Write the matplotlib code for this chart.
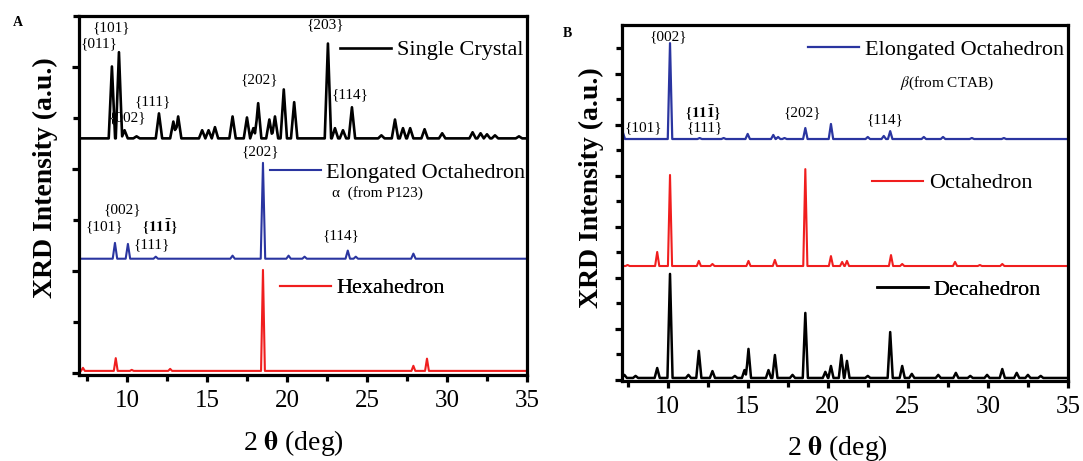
import numpy as np
import matplotlib.pyplot as plt
from matplotlib.ticker import MultipleLocator

plt.rcParams["font.family"] = ["Liberation Serif", "DejaVu Serif"]
plt.rcParams["mathtext.fontset"] = "stix"

# Panel A: peak positions (2 theta, deg) and peak heights above each trace's
# baseline, in units of the y tick spacing.
single_pos = [9.06, 9.5, 9.85, 10.6, 12.0, 12.9, 13.2, 14.7, 15.1, 15.5, 16.6, 17.5,
              17.9, 18.2, 18.9, 19.25, 19.8, 20.45, 22.56, 23.0, 23.5, 24.06, 25.9,
              26.75, 27.25, 27.7, 28.6, 29.7, 31.6, 32.1, 32.5, 33.0, 34.5]
single_h = [1.41, 1.69, 0.16, 0.04, 0.49, 0.33, 0.43, 0.16, 0.16, 0.22, 0.43, 0.41,
            0.2, 0.69, 0.37, 0.43, 0.96, 0.71, 1.86, 0.2, 0.16, 0.61, 0.06,
            0.37, 0.2, 0.2, 0.18, 0.1, 0.12, 0.1, 0.08, 0.06, 0.04]
single_base = 4.6

alpha_pos = [9.25, 10.06, 11.8, 16.6, 18.5, 20.1, 21.1, 23.8, 24.3, 27.9]
alpha_h = [0.31, 0.29, 0.04, 0.06, 1.88, 0.06, 0.04, 0.16, 0.04, 0.1]
alpha_base = 2.24

hexa_pos = [7.25, 9.3, 10.3, 12.7, 18.5, 27.9, 28.75]
hexa_h = [0.06, 0.25, 0.02, 0.04, 1.98, 0.1, 0.24]
hexa_base = 0.04

# Panel B
beta_pos = [7.2, 10.15, 12.0, 13.5, 15.0, 16.6, 16.9, 17.3, 18.6, 20.2, 22.5, 23.5,
            23.9, 26.0, 27.2, 29.0, 31.0]
beta_h = [0.27, 3.76, 0.04, 0.04, 0.2, 0.16, 0.08, 0.04, 0.43, 0.59, 0.08, 0.12,
          0.31, 0.08, 0.08, 0.04, 0.04]
beta_base = 9.45

octa_pos = [7.5, 9.35, 10.15, 11.95, 12.8, 15.05, 16.7, 18.6, 20.2, 20.9, 21.2, 23.95,
            24.65, 27.95, 29.5, 30.9]
octa_h = [0.04, 0.55, 3.57, 0.2, 0.08, 0.2, 0.24, 3.8, 0.39, 0.16, 0.2, 0.43,
          0.08, 0.16, 0.04, 0.08]
octa_base = 4.47

deca_pos = [7.3, 8.0, 9.35, 10.15, 11.3, 11.95, 12.8, 14.2, 14.8, 15.05, 16.3, 16.7,
            17.8, 18.6, 19.85, 20.2, 20.85, 21.2, 22.5, 23.9, 24.65, 25.25, 26.9, 28.0,
            28.9, 29.95, 30.9, 31.8, 32.5, 33.3]
deca_h = [0.12, 0.08, 0.39, 4.08, 0.12, 1.06, 0.27, 0.08, 0.31, 1.14, 0.31, 0.9,
          0.12, 2.55, 0.24, 0.47, 0.9, 0.67, 0.08, 1.8, 0.47, 0.16, 0.12, 0.2,
          0.08, 0.12, 0.35, 0.2, 0.12, 0.08]
deca_base = 0.08

BLACK = "#000000"
BLUE = "#2a35a0"
RED = "#f01e1e"


def trace(pos, heights, base, hw, lo, hi):
    """Piecewise-linear pattern: each peak is a narrow spike of half-width hw."""
    pos = np.asarray(pos, dtype=float)
    heights = np.asarray(heights, dtype=float)
    xs = np.unique(np.concatenate([[lo, hi], pos - hw, pos, pos + hw]))
    xs = xs[(xs >= lo) & (xs <= hi)]
    tri = np.clip(1 - np.abs(xs[:, None] - pos[None, :]) / hw, 0, None)
    return xs, base + tri @ heights


def add_key(ax, line, label, x, y):
    leg = ax.legend([line], [label], loc="center left", bbox_to_anchor=(x, y),
                    frameon=False, fontsize=16, handlelength=2.3, handletextpad=0.25,
                    borderpad=0, borderaxespad=0)
    ax.add_artist(leg)


def style(ax, xlo, ylim, ymajor):
    ax.set_xlim(xlo, 35)
    ax.set_ylim(*ylim)
    ax.xaxis.set_major_locator(MultipleLocator(5))
    ax.xaxis.set_minor_locator(MultipleLocator(2.5))
    ax.yaxis.set_major_locator(MultipleLocator(ymajor))
    ax.yaxis.set_minor_locator(MultipleLocator(1))
    for s in ax.spines.values():
        s.set_linewidth(2.3)
    ax.tick_params(which="both", direction="out", width=2.3, labelsize=18, pad=6,
                   labelleft=False)
    ax.tick_params(which="major", length=5)
    ax.tick_params(which="minor", length=4)
    ax.set_xlabel("2 $\\mathbf{\\theta}$ (deg)", fontsize=20)
    ax.set_ylabel("XRD Intensity (a.u.)", fontsize=20, fontweight="bold")


def hkl(ax, s, x, y, **kw):
    ax.text(x, y, s, fontsize=11, ha="center", va="center", **kw)


fig = plt.figure(figsize=(10.83, 4.61), dpi=100)
axA = fig.add_axes([0.0729, 0.1866, 0.4137, 0.7787])
axB = fig.add_axes([0.5743, 0.1735, 0.4118, 0.7722])

# ---- panel A
lo = 7.0
l_single, = axA.plot(*trace(single_pos, single_h, single_base, 0.2, lo, 35), color=BLACK, lw=1.9)
l_alpha, = axA.plot(*trace(alpha_pos, alpha_h, alpha_base, 0.14, lo, 35), color=BLUE, lw=1.5)
l_hexa, = axA.plot(*trace(hexa_pos, hexa_h, hexa_base, 0.12, lo, 35), color=RED, lw=1.5)
style(axA, lo, (-0.04, 7.0), 2)
axA.yaxis.set_label_coords(-0.047, 0.549)
axA.xaxis.set_label_coords(0.478, -0.148)

add_key(axA, l_single, "Single Crystal", 0.583, 0.905)
add_key(axA, l_alpha, "Elongated Octahedron", 0.426, 0.563)
add_key(axA, l_hexa, "Hexahedron", 0.449, 0.242)
axA.text(22.81, 3.53, "α  (from P123)", fontsize=11, ha="left", va="center")

hkl(axA, "{011}", 8.25, 6.45)
hkl(axA, "{101}", 9.0, 6.76)
hkl(axA, "{002}", 10.0, 5.0)
hkl(axA, "{111}", 11.63, 5.31)
hkl(axA, "{202}", 18.25, 5.75)
hkl(axA, "{203}", 22.375, 6.82)
hkl(axA, "{114}", 23.94, 5.45)
hkl(axA, "{202}", 18.31, 4.33)
hkl(axA, "{101}", 8.56, 2.86)
hkl(axA, "{002}", 9.69, 3.2)
hkl(axA, r"$\mathbf{\{11\bar{1}\}}$", 12.06, 2.86)
hkl(axA, "{111}", 11.56, 2.51)
hkl(axA, "{114}", 23.38, 2.69)

# ---- panel B
lo = 7.15
l_beta, = axB.plot(*trace(beta_pos, beta_h, beta_base, 0.14, lo, 35), color=BLUE, lw=1.6)
l_octa, = axB.plot(*trace(octa_pos, octa_h, octa_base, 0.13, lo, 35), color=RED, lw=1.5)
l_deca, = axB.plot(*trace(deca_pos, deca_h, deca_base, 0.16, lo, 35), color=BLACK, lw=1.8)
style(axB, lo, (-0.04, 13.92), 2)
axB.yaxis.set_label_coords(-0.04, 0.542)
axB.xaxis.set_label_coords(0.484, -0.145)

add_key(axB, l_beta, "Elongated Octahedron", 0.417, 0.93)
add_key(axB, l_octa, "Octahedron", 0.561, 0.556)
add_key(axB, l_deca, "Decahedron", 0.572, 0.256)
axB.text(27.47, 11.65, "$\\beta$(from CTAB)", fontsize=11, ha="center", va="center")

hkl(axB, "{002}", 10.02, 13.45)
hkl(axB, "{101}", 8.52, 9.88)
hkl(axB, r"$\mathbf{\{11\bar{1}\}}$", 12.2, 10.47)
hkl(axB, "{111}", 12.32, 9.88)
hkl(axB, "{202}", 18.43, 10.47)
hkl(axB, "{114}", 23.61, 10.2)

fig.text(18 / 1083, 1 - 22 / 461, "A", fontsize=10, fontweight="bold", ha="center", va="center")
fig.text(567 / 1083, 1 - 33 / 461, "B", fontsize=10, fontweight="bold", ha="center", va="center")

fig.savefig("out.png", dpi=100)
